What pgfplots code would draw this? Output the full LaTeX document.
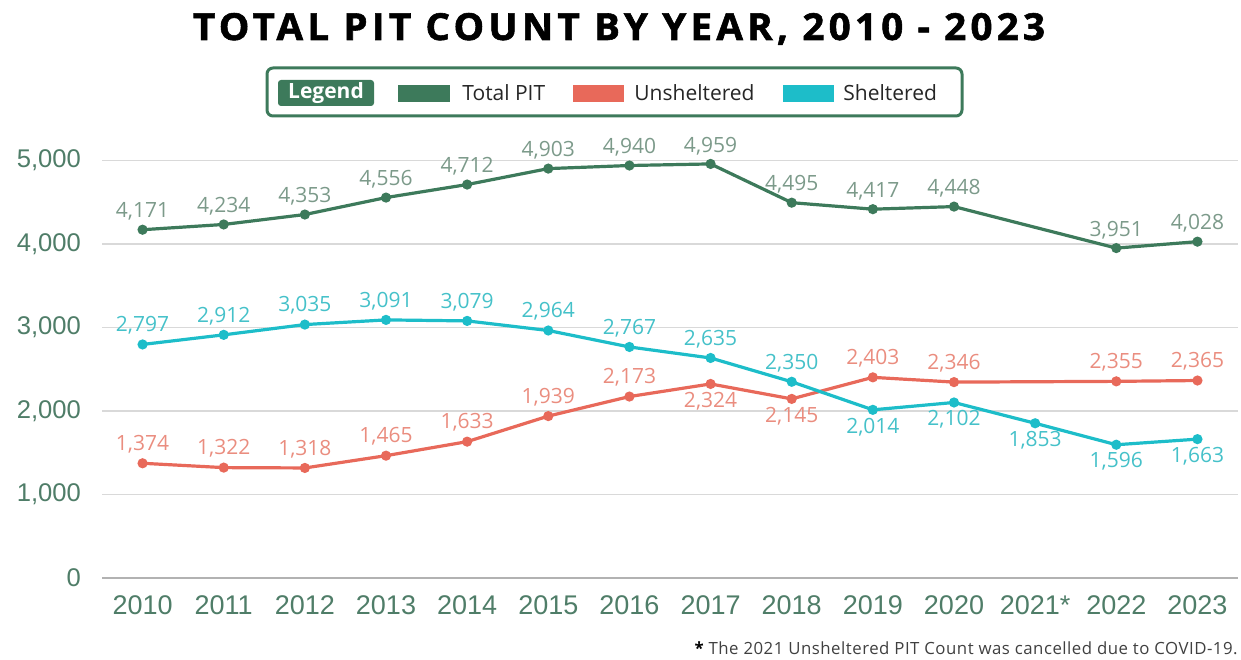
\documentclass[border=0pt]{standalone}
\usepackage{pgfplots}
\pgfplotsset{compat=1.18}
\usepackage{pgfplotstable}
\usepackage{fontspec}
\setmainfont{Open Sans}
\newfontfamily\tickfont{Liberation Sans}
\newfontfamily\titlefont{Open Sans}[LetterSpace=11, BoldFeatures={FakeBold=1.5}]

\definecolor{totalc}{HTML}{3D7A5B}
\definecolor{unshc}{HTML}{E8695A}
\definecolor{shelc}{HTML}{1DBDC9}
\definecolor{totall}{HTML}{7C9A8A}
\definecolor{unshl}{HTML}{EA8D7F}
\definecolor{shell}{HTML}{45C1C9}
\definecolor{tickc}{HTML}{4F7D68}

% x: 0 = 2010 ... 13 = 2023; dy = label offset in pt (+ above, - below)
\pgfplotstableread{
x  y    dy
0  4171 9
1  4234 9
2  4353 9
3  4556 9
4  4712 9
5  4903 9
6  4940 9
7  4959 9
8  4495 9
9  4417 9
10 4448 9
12 3951 9
13 4028 9
}\totaldata

% no unsheltered count in 2021
\pgfplotstableread{
x  y    dy
0  1374 9.5
1  1322 9.5
2  1318 9.5
3  1465 9.5
4  1633 9.5
5  1939 9.5
6  2173 9.5
7  2324 -8.5
8  2145 -8.5
9  2403 9.5
10 2346 9.5
12 2355 9.5
13 2365 9.5
}\unshdata

\pgfplotstableread{
x  y    dy
0  2797 9.5
1  2912 9.5
2  3035 9.5
3  3091 9.5
4  3079 9.5
5  2964 9.5
6  2767 9.5
7  2635 9.5
8  2350 9.5
9  2014 -8.5
10 2102 -8.5
11 1853 -8.5
12 1596 -8.5
13 1663 -8.5
}\sheldata

\pgfplotsset{
  pitline/.style n args={2}{
    #1, line width=1.6pt, mark=*, mark size=1.7pt,
    nodes near coords, point meta=y,
    visualization depends on={\thisrow{dy}\as\ldy},
    every node near coord/.append style={anchor=center, yshift=\ldy pt,
      font=\fontsize{10.5}{12}\selectfont, text=#2},
  },
}

\begin{document}
\begin{tikzpicture}
\useasboundingbox (0,0) rectangle (620.5pt,329.5pt);
\begin{axis}[
    at={(51pt,40.5pt)}, anchor=south west,
    scale only axis, width=568pt, height=208.75pt,
    xmin=-0.5, xmax=13.5, ymin=0, ymax=5000,
    xtick={0,...,13},
    xticklabels={2010,2011,2012,2013,2014,2015,2016,2017,2018,2019,2020,2021*,2022,2023},
    ytick={1000,2000,...,5000},
    extra y ticks={0},
    extra y tick style={grid style={draw=black!30, line width=0.9pt}},
    ymajorgrids,
    grid style={draw=black!15, line width=0.75pt},
    axis line style={draw=none},
    major tick length=0pt,
    /pgf/number format/assume math mode=true,
    /pgf/number format/1000 sep={,},
    xticklabel style={font=\tickfont\fontsize{13.5}{15}\selectfont, text=tickc, yshift=-5.5pt},
    yticklabel style={font=\tickfont\fontsize{12.8}{15}\selectfont, text=tickc, xshift=-7pt},
    clip=false,
  ]
  \addplot[pitline={totalc}{totall}] table[x=x, y=y] {\totaldata};
  \addplot[pitline={unshc}{unshl}] table[x=x, y=y] {\unshdata};
  \addplot[pitline={shelc}{shell}] table[x=x, y=y] {\sheldata};
\end{axis}

% title
\node[anchor=base, inner sep=0] at (309.5pt,309.5pt)
  {\resizebox{426pt}{13.5pt}{\titlefont\bfseries TOTAL PIT COUNT BY YEAR, 2010 - 2023}};

% legend
\draw[totalc, line width=1.5pt, rounded corners=3pt] (133.5pt,271.5pt) rectangle (481pt,295.5pt);
\fill[totalc, rounded corners=1.5pt] (139pt,276.5pt) rectangle (187pt,289.5pt);
\node[text=white, inner sep=0, font=\fontsize{10.5}{12}\selectfont\bfseries] at (163pt,283pt) {Legend};
\fill[totalc] (199pt,278.5pt) rectangle (225pt,287pt);
\node[anchor=base west, inner sep=0, font=\fontsize{10.5}{12}\selectfont, text=black!85] at (231pt,279pt) {Total PIT};
\fill[unshc] (286.5pt,278.5pt) rectangle (312pt,287pt);
\node[anchor=base west, inner sep=0, font=\fontsize{10.5}{12}\selectfont, text=black!85] at (317pt,279pt) {Unsheltered};
\fill[shelc] (391.5pt,278.5pt) rectangle (417pt,287pt);
\node[anchor=base west, inner sep=0, font=\fontsize{10.5}{12}\selectfont, text=black!85] at (421.5pt,279pt) {Sheltered};

% footnote
\node[anchor=base east, inner sep=0, font=\fontsize{8.4}{9}\selectfont\addfontfeatures{LetterSpace=3}, text=black!75] at (619pt,2.5pt)
  {\textcolor{black}{\bfseries *} The 2021 Unsheltered PIT Count was cancelled due to COVID-19.};
\end{tikzpicture}
\end{document}
